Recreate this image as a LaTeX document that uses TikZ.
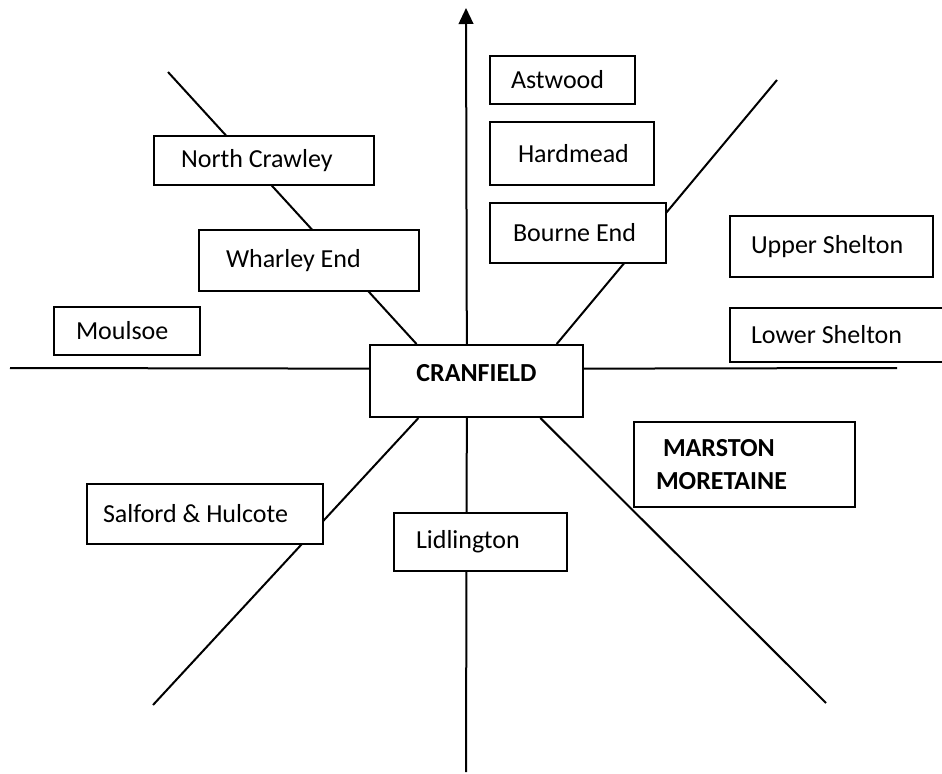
\documentclass[tikz,border=0pt]{standalone}
\usepackage{fontspec}
\setmainfont{Carlito}
\usetikzlibrary{arrows.meta,positioning,calc}
\pgfdeclarelayer{background}
\pgfsetlayers{background,main}

\begin{document}
\begin{tikzpicture}[x=0.75pt,y=-0.75pt,>={Triangle[length=12pt,width=11pt]}]
        \tikzset{
            place/.style= {
                draw,
                fill=white,
                shape=rectangle,
                anchor=north west,
                align=flush left,
                line width=1.5pt,
                font=\fontsize{19.5}{24.75}\selectfont
            },
            road/.style={draw, line width=1.5pt},
        }
        \useasboundingbox (0,0) rectangle (942,774);
        \node [place, align=center, minimum width=159.75pt, minimum height=54pt, text depth=12pt,
            font=\fontsize{19.5}{24.75}\selectfont\bfseries] (cranfield) at (369,344)
            {CRANFIELD};
        \node [place, inner xsep=15.75pt, text width=77.25pt, minimum height=36pt] (astwood) at (489,55)
            {Astwood};
        \node [place, inner xsep=21pt, text width=81pt, minimum height=47.25pt] (hardmead) at (489,121)
            {Hardmead};
        \node [place, inner xsep=17.25pt, text width=97.5pt, minimum height=45pt] (bourne) at (489,202)
            {Bourne End};
        \node [place, inner xsep=20.25pt, text width=124.5pt, minimum height=36.75pt] (ncrawley) at (153,135)
            {North Crawley};
        \node [place, inner xsep=20.25pt, text width=124.5pt, minimum height=45.75pt] (wharley) at (198,229)
            {Wharley End};
        \node [place, inner xsep=16.5pt, text width=76.5pt, minimum height=36pt] (moulsoe) at (53,306)
            {Moulsoe};
        \node [place, inner xsep=15.75pt, text width=120.75pt, minimum height=45.75pt] (upper) at (729,215)
            {Upper Shelton};
        \node [place, inner xsep=15.75pt, text width=148.5pt, minimum height=40.5pt] (lower) at (729,307)
            {Lower Shelton};
        \node [place, inner xsep=16.5pt, text width=132.75pt, minimum height=63.75pt,
            font=\fontsize{19.5}{24.75}\selectfont\bfseries] (marston) at (633,421)
            {\hspace{5.25pt}MARSTON\\MORETAINE};
        \node [place, inner xsep=12pt, text width=153pt, minimum height=45pt] (salford) at (86,483)
            {Salford \& Hulcote};
        \node [place, inner xsep=16.5pt, text width=96.75pt, minimum height=43.5pt] (lidlington) at (393,512)
            {Lidlington};
        % free ends of the roads
        \coordinate (north) at (466,8);
        \coordinate (south) at (466,772);
        \coordinate (west) at (10,368);
        \coordinate (east) at (897,368);
        \coordinate (northwest) at (168,72);
        \coordinate (northeast) at (777,80);
        \coordinate (southwest) at (153,705);
        \coordinate (southeast) at (826,703);
%% paths
\begin{pgfonlayer}{background}
\path[road]
    ($(cranfield.north west)!0.455!(cranfield.north east)$) edge[->] (north)
    ($(cranfield.south west)!0.455!(cranfield.south east)$) edge (south)
    ($(cranfield.north west)!0.333!(cranfield.south west)$) edge (west)
    ($(cranfield.north east)!0.333!(cranfield.south east)$) edge (east)
    ($(cranfield.north west)!0.221!(cranfield.north east)$) edge (northwest)
    ($(cranfield.north west)!0.873!(cranfield.north east)$) edge (northeast)
    ($(cranfield.south west)!0.23!(cranfield.south east)$) edge (southwest)
    ($(cranfield.south west)!0.797!(cranfield.south east)$) edge (southeast)
;
\end{pgfonlayer}
\end{tikzpicture}
\end{document}
